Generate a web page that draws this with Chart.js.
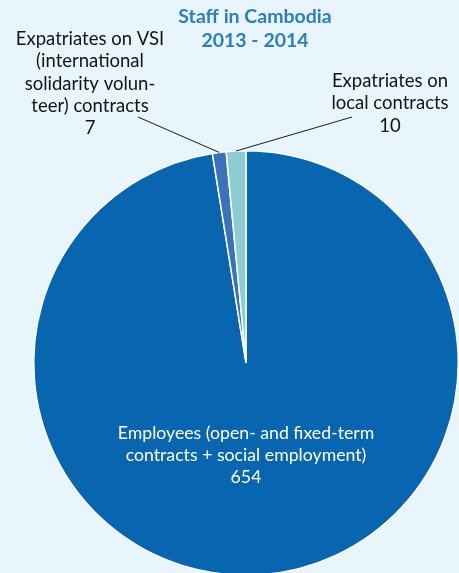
<!DOCTYPE html>
<html>
<head>
<meta charset="utf-8">
<script src="https://cdn.jsdelivr.net/npm/chart.js@4"></script>
<style>
  html, body { margin: 0; padding: 0; background: #e9f5fd; overflow: hidden; }
  #wrap { width: 459px; height: 600px; position: relative; }
</style>
</head>
<body>
<div id="wrap"><canvas id="pie"></canvas></div>
<script>
// data
const categories = [
  ['Employees (open- and fixed-term', 'contracts + social employment)'],
  ['Expatriates on VSI', '(international', 'solidarity volun-', 'teer) contracts'],
  ['Expatriates on', 'local contracts']
];
const values = [654, 7, 10];
const colors = ['#0865b0', '#3b72b9', '#8ccdd4'];
const titleLines = ['Staff in Cambodia', '2013 - 2014'];

const FONT = 'Lato, "Open Sans", sans-serif';

// label placement (text only)
const labelPos = [
  { x: 246, y: 433, color: '#ffffff', size: 17.7 },
  { x: 90, y: 39, color: '#141414', size: 18.5, lineTo: [138, 117] },
  { x: 390, y: 81, color: '#141414', size: 18.5, lineTo: [352, 117] }
];

const labelsPlugin = {
  id: 'labels',
  afterDraw(chart) {
    const ctx = chart.ctx;
    const meta = chart.getDatasetMeta(0);
    ctx.save();
    // title
    ctx.fillStyle = '#2a7fc2';
    ctx.font = 'bold 19.5px ' + FONT;
    ctx.textAlign = 'center';
    ctx.textBaseline = 'middle';
    titleLines.forEach((t, i) => ctx.fillText(t, 255, 17 + i * 24));

    meta.data.forEach((arc, i) => {
      const p = labelPos[i];
      const lines = categories[i].concat([String(values[i])]);
      ctx.fillStyle = p.color;
      ctx.font = p.size + 'px ' + FONT;
      lines.forEach((t, k) => ctx.fillText(t, p.x, p.y + k * 22.3));
      if (p.lineTo) {
        const mid = (arc.startAngle + arc.endAngle) / 2;
        const ex = arc.x + Math.cos(mid) * arc.outerRadius;
        const ey = arc.y + Math.sin(mid) * arc.outerRadius;
        ctx.strokeStyle = '#1a1a1a';
        ctx.lineWidth = 1;
        ctx.beginPath();
        ctx.moveTo(p.lineTo[0], p.lineTo[1]);
        ctx.lineTo(ex, ey);
        ctx.stroke();
      }
    });
    ctx.restore();
  }
};

new Chart(document.getElementById('pie'), {
  type: 'pie',
  data: {
    labels: categories.map(c => c.join(' ')),
    datasets: [{
      data: values,
      backgroundColor: colors,
      borderColor: '#ffffff',
      borderWidth: 1.5
    }]
  },
  options: {
    responsive: true,
    maintainAspectRatio: false,
    animation: false,
    layout: { padding: { left: 33, right: 0, top: 150, bottom: 24 } },
    plugins: {
      legend: { display: false },
      tooltip: { enabled: false },
      title: { display: false }
    }
  },
  plugins: [labelsPlugin]
});
</script>
</body>
</html>
